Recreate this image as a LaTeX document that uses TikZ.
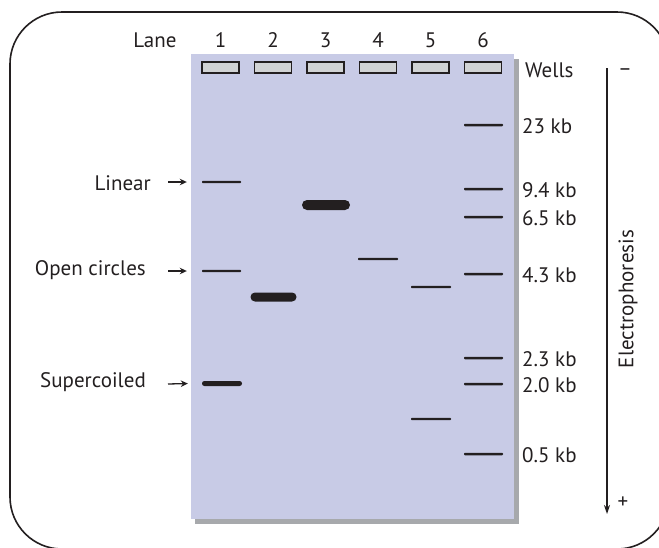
\documentclass[tikz,border=0pt]{standalone}
\usepackage{fontspec}
\setmainfont{PT Sans}
\usetikzlibrary{arrows.meta,calc}
\definecolor{gelfill}{RGB}{200,203,230}
\definecolor{gelshade}{RGB}{167,169,172}
\definecolor{wellfill}{RGB}{209,211,212}
\definecolor{ink}{RGB}{35,31,32}
\tikzset{
  lbl/.style={font=\fontsize{21}{24}\selectfont, text=ink, inner sep=0pt},
  well/.style={rectangle, draw=ink, line width=1.1pt, fill=wellfill,
    minimum width=37pt, minimum height=11pt, inner sep=0pt},
  band/.style={rectangle, fill=ink, inner sep=0pt, minimum width=39pt,
    minimum height=2.2pt, rounded corners=0.8pt},
  midband/.style={band, minimum height=5pt, rounded corners=2.4pt, minimum width=40pt},
  thickband/.style={band, minimum height=9pt, rounded corners=4.4pt, minimum width=46pt},
  pointer/.style={draw=ink, line width=1.3pt, -{Stealth[length=7pt,width=6.5pt]}},
  runarrow/.style={draw=ink, line width=1.2pt, -{Stealth[length=9pt,width=6pt]}}
}
\begin{document}
\begin{tikzpicture}[x=1pt,y=-1pt]
\useasboundingbox (0,0) rectangle (659,547);
\clip (0,0) rectangle (659,547);
% outer rounded frame
\draw[ink, line width=1.6pt, rounded corners=52pt] (10,12) rectangle (669,549);
% gel slab with its shadow
\fill[gelshade] (195,59) rectangle (519,524);
\fill[gelfill] (191,54) rectangle (514,519);
% lane header
\node[lbl] (lanelbl) at (155,40) {Lane};
\foreach \i/\x in {1/220.5,2/273,3/325.5,4/378,5/430.5,6/483}{
  \node[lbl] (n\i) at (\x,40) {\i};
  \node[well] (w\i) at (\x,67.5) {};
}
\node[lbl, anchor=west] (wells) at (525,70) {Wells};
% lane 1: plasmid forms
\node[band] (l1lin) at (221.5,182) {};
\node[band] (l1open) at (221.5,271) {};
\node[midband] (l1sup) at (222,383.5) {};
% lanes 2-5
\node[thickband] (l2) at (273.5,297) {};
\node[thickband, minimum width=48pt, minimum height=10pt, rounded corners=5pt] (l3) at (326,205) {};
\node[band, minimum width=40pt] (l4) at (378,259) {};
\node[band, minimum width=40pt] (l5a) at (431,287) {};
\node[band, minimum width=40pt] (l5b) at (431,419) {};
% lane 6: size marker
\foreach \nm/\y/\t in {m23/125/23 kb, m94/189/9.4 kb, m65/217/6.5 kb, m43/274/4.3 kb,
                      m23b/358/2.3 kb, m20/384/2.0 kb, m05/454/0.5 kb}{
  \node[band, minimum width=39pt, minimum height=2.5pt] (\nm) at (483.5,\y) {};
  \node[lbl, anchor=west] (\nm t) at (522,\y+1) {\t};
}
% form labels with pointers
\node[lbl, anchor=east] (lin) at (151,183) {Linear};
\node[lbl, anchor=east] (open) at (146,270) {Open circles};
\node[lbl, anchor=east] (sup) at (146,382) {Supercoiled};
\draw[pointer] ($(lin.east)+(17,-1)$) -- ($(l1lin.west)+(-15,0)$);
\draw[pointer] ($(open.east)+(22,1)$) -- ($(l1open.west)+(-15,0)$);
\draw[pointer] ($(sup.east)+(22,2)$) -- ($(l1sup.west)+(-14,0)$);
% direction of migration
\coordinate (etop) at (607,68);
\coordinate (ebot) at (607,514);
\draw[runarrow] (etop) -- (ebot);
\node[lbl] (minus) at (625,72) {–};
\node[lbl] (plus) at (623,503) {+};
\node[lbl, rotate=90] (ephor) at (628,299) {Electrophoresis};
\end{tikzpicture}
\end{document}
